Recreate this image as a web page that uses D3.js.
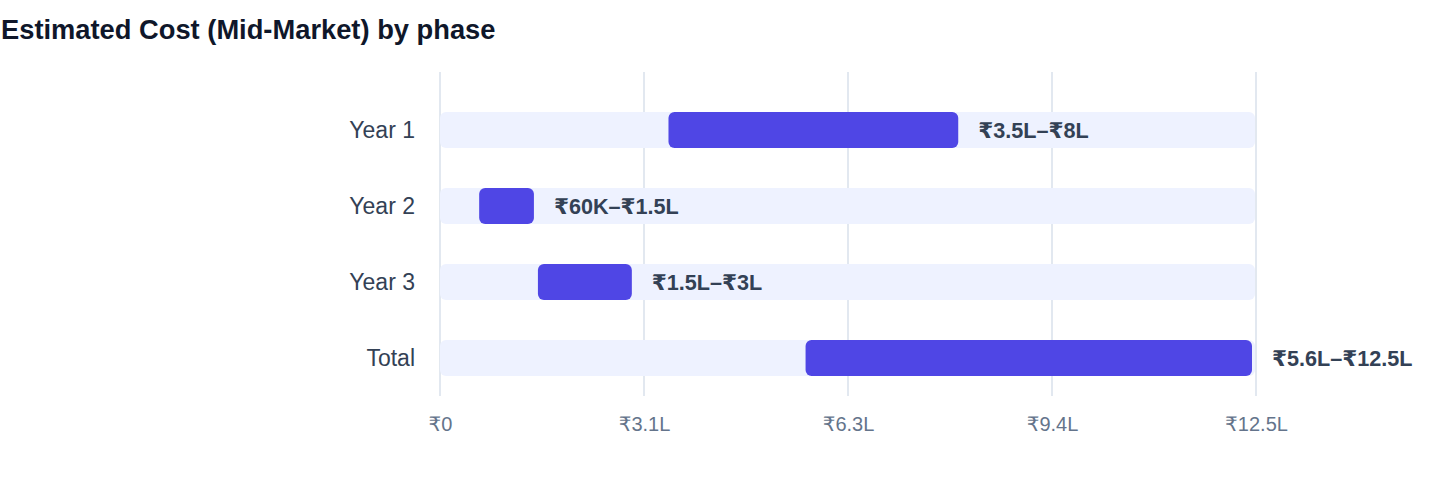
<!DOCTYPE html>
<html lang="en">
<head>
<meta charset="utf-8">
<title>Estimated Cost (Mid-Market) by phase</title>
<script src="https://cdn.jsdelivr.net/npm/d3@7"></script>
<style>
  html, body { margin: 0; padding: 0; background: #fff; }
  body { font-family: Helvetica, Arial, "Liberation Sans", "DejaVu Sans", sans-serif; }
  .title { font-size: 27.3px; font-weight: bold; fill: #0f172a; }
  .cat { font-size: 23px; fill: #334155; }
  .tick text { font-size: 20px; fill: #64748b; }
  .val { font-size: 21.6px; font-weight: bold; fill: #334155; }
</style>
</head>
<body>
<script>
// data (in lakh rupees)
var phases = ["Year 1", "Year 2", "Year 3", "Total"];
var lows = [3.5, 0.6, 1.5, 5.6];
var highs = [8, 1.5, 3, 12.5];
var rangeLabels = ["₹3.5L–₹8L", "₹60K–₹1.5L", "₹1.5L–₹3L", "₹5.6L–₹12.5L"];
var tickValues = [0, 3.125, 6.25, 9.375, 12.5];
var tickLabels = ["₹0", "₹3.1L", "₹6.3L", "₹9.4L", "₹12.5L"];

var width = 1440, height = 484;
var plotLeft = 440, plotRight = 1256;
var plotTop = 92, plotBottom = 396;

var svg = d3.select("body").append("svg")
    .attr("width", width)
    .attr("height", height);

svg.append("text")
    .attr("class", "title")
    .attr("x", 1)
    .attr("y", 39)
    .text("Estimated Cost (Mid-Market) by phase");

var x = d3.scaleLinear().domain([0, 12.5]).range([plotLeft, plotRight]);
var y = d3.scaleBand().domain(phases).range([plotTop, plotBottom])
    .paddingInner(0.526).paddingOuter(0.263);

// grid
svg.append("g").selectAll("line")
    .data(tickValues)
    .enter().append("line")
    .attr("x1", function(d) { return x(d); })
    .attr("x2", function(d) { return x(d); })
    .attr("y1", 72)
    .attr("y2", plotBottom)
    .attr("stroke", "#e2e8f0")
    .attr("stroke-width", 2);

// axis
var axis = d3.axisBottom(x)
    .tickValues(tickValues)
    .tickSize(0)
    .tickPadding(21)
    .tickFormat(function(d, i) { return tickLabels[i]; });

var ax = svg.append("g")
    .attr("transform", "translate(0," + plotBottom + ")")
    .call(axis);
ax.select(".domain").remove();
ax.attr("font-family", null).attr("font-size", null);

var rows = svg.append("g").selectAll("g")
    .data(phases)
    .enter().append("g");

// background track
rows.append("rect")
    .attr("x", x(0))
    .attr("y", function(d) { return y(d); })
    .attr("width", x(12.5) - x(0) - 1)
    .attr("height", y.bandwidth())
    .attr("rx", 6)
    .attr("fill", "#eef2ff");

// range bar
rows.append("rect")
    .attr("x", function(d, i) { return x(lows[i]); })
    .attr("y", function(d) { return y(d); })
    .attr("width", function(d, i) { return x(highs[i]) - x(lows[i]) - 4; })
    .attr("height", y.bandwidth())
    .attr("rx", 6)
    .attr("fill", "#4f46e5");

rows.append("text")
    .attr("class", "val")
    .attr("x", function(d, i) { return x(highs[i]) + 16; })
    .attr("y", function(d) { return y(d) + y.bandwidth() / 2; })
    .attr("dy", "0.35em")
    .text(function(d, i) { return rangeLabels[i]; });

rows.append("text")
    .attr("class", "cat")
    .attr("x", plotLeft - 25)
    .attr("y", function(d) { return y(d) + y.bandwidth() / 2; })
    .attr("dy", "0.35em")
    .attr("text-anchor", "end")
    .text(function(d) { return d; });
</script>
</body>
</html>
